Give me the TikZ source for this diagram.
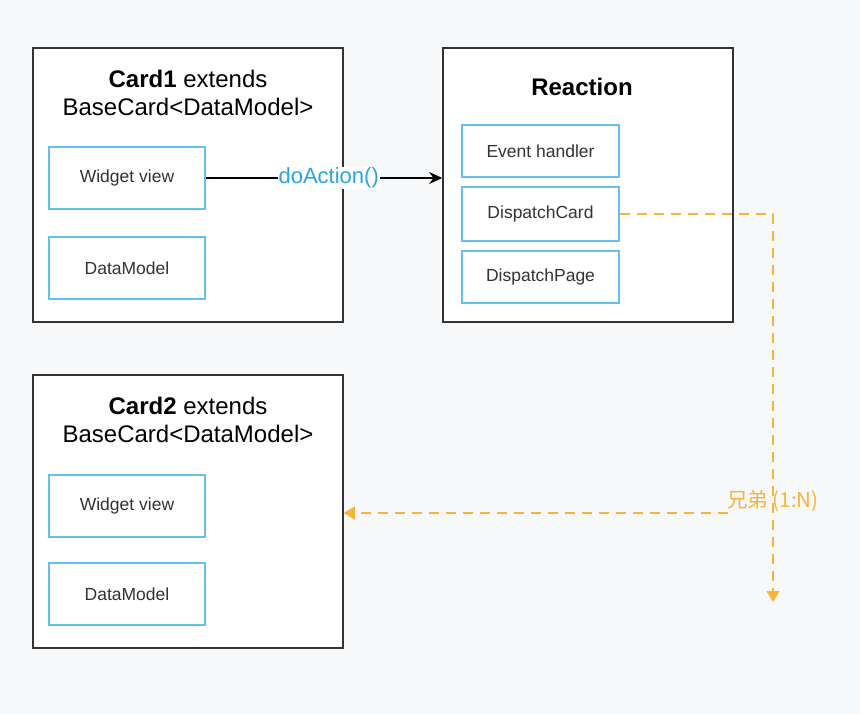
\documentclass[tikz,border=0pt]{standalone}
\usepackage{fontspec}
\setmainfont{Liberation Sans}
\newfontfamily\cjk{Noto Sans CJK SC}
\usetikzlibrary{arrows.meta}
\definecolor{bgc}{RGB}{247,248,250}
\definecolor{boxc}{RGB}{51,51,51}
\definecolor{innerc}{RGB}{100,192,236}
\definecolor{linkc}{RGB}{41,165,224}
\definecolor{orangec}{RGB}{247,180,55}
\tikzset{
  outerbox/.style={draw=boxc, line width=1.6pt, fill=white, minimum width=310pt, inner sep=0pt},
  innerbox/.style={draw=innerc, line width=1.6pt, fill=white, minimum width=156pt, inner sep=0pt, font=\fontsize{17.5}{20}\selectfont, text=boxc},
  titletext/.style={font=\fontsize{24}{28}\selectfont, align=center, text=black},
  orangeline/.style={draw=orangec, line width=1.6pt, dash pattern=on 10pt off 7pt},
  orangetip/.style={-{Triangle[length=11pt,width=13pt]}},
}
\begin{document}
\begin{tikzpicture}[x=1pt,y=-1pt]
\fill[bgc] (0,0) rectangle (860,714);
\useasboundingbox (0,0) rectangle (860,714);

% Card1
\node[outerbox, minimum height=274pt] (card1) at (188,185) {};
\node[titletext] (c1t) at (188,93) {\textbf{Card1} extends\\BaseCard<DataModel>};
\node[innerbox, minimum height=62pt] (wv1) at (127,178) {Widget view};
\node[innerbox, minimum height=62pt] (dm1) at (127,268) {DataModel};

% Reaction
\node[outerbox, minimum width=290pt, minimum height=274pt] (react) at (588,185) {};
\node[titletext] (rt) at (582,87) {\textbf{Reaction}};
\node[innerbox, minimum width=157pt, minimum height=52pt] (eh) at (540.5,151) {Event handler};
\node[innerbox, minimum width=157pt, minimum height=54pt] (dc) at (540.5,214) {DispatchCard};
\node[innerbox, minimum width=157pt, minimum height=52pt] (dp) at (540.5,277) {DispatchPage};

% Card2
\node[outerbox, minimum height=273pt] (card2) at (188,511.5) {};
\node[titletext] (c2t) at (188,420) {\textbf{Card2} extends\\BaseCard<DataModel>};
\node[innerbox, minimum height=62pt] (wv2) at (127,506) {Widget view};
\node[innerbox, minimum height=62pt] (dm2) at (127,594) {DataModel};

% doAction connector
\draw[draw=black, line width=1.4pt, -{Stealth[length=13pt,width=12pt]}] (wv1.east) -- (wv1.east -| react.west)
  node[pos=0.52, fill=white, inner sep=1pt, text=linkc, font=\fontsize{22}{24}\selectfont] (act) {doAction()};

% orange dashed connectors
\coordinate (down) at (773,602);
\coordinate (j) at (728,513);
\draw[orangeline, orangetip] (dc.east) -| (down);
\draw[orangeline, orangetip] (j) -- (j -| card2.east);
\node[text=orangec, font=\cjk\fontsize{20.5}{23}\selectfont, anchor=south west, inner sep=0pt] (lbl) at (727,512) {兄弟 (1:N)};
\end{tikzpicture}
\end{document}
